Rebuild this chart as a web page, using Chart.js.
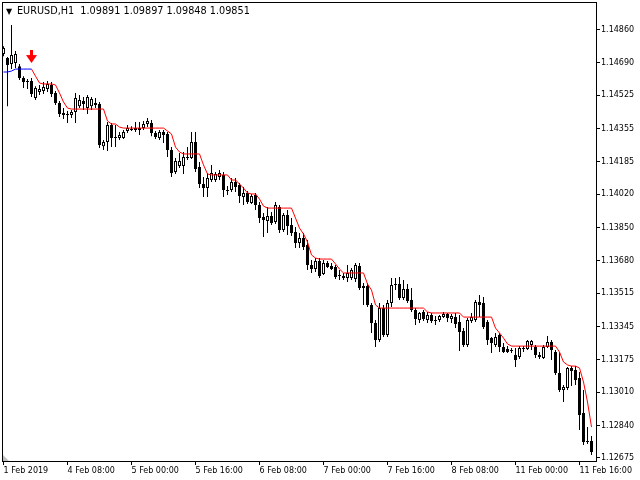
<!DOCTYPE html>
<html>
<head>
<meta charset="utf-8">
<script src="https://cdn.jsdelivr.net/npm/chart.js@4.4.1/dist/chart.umd.min.js"></script>
<style>
  html, body { margin: 0; padding: 0; background: #fff; }
  #wrap { position: relative; width: 640px; height: 480px; }
  #chart { display: block; }
  #title { position: absolute; left: 6px; top: 6px; font: 9.7px "DejaVu Sans", sans-serif; line-height: 10px; white-space: pre; color: #000; }
  #title .tri { display: inline-block; width: 11px; font-size: 8px; }
</style>
</head>
<body>
<div id="wrap">
  <canvas id="chart" width="640" height="480"></canvas>
  <div id="title"><span class="tri">▼</span>EURUSD,H1  1.09891 1.09897 1.09848 1.09851</div>
</div>
<script>
// H1 bars, index 0 = 1 Feb 16:00
const barOpen = [
  1.14735, 1.14714, 1.14684, 1.14689, 1.14673, 1.14612, 1.14597, 1.14597, 1.14510, 1.14541,
  1.14546, 1.14556, 1.14577, 1.14536, 1.14485, 1.14434, 1.14429, 1.14424, 1.14439, 1.14469,
  1.14495, 1.14459, 1.14469, 1.14485, 1.14480, 1.14265, 1.14286, 1.14373, 1.14311, 1.14306,
  1.14306, 1.14342, 1.14352, 1.14347, 1.14357, 1.14357, 1.14378, 1.14383, 1.14332, 1.14306,
  1.14337, 1.14327, 1.14245, 1.14133, 1.14163, 1.14163, 1.14204, 1.14204, 1.14286, 1.14158,
  1.14072, 1.14051, 1.14092, 1.14092, 1.14107, 1.14118, 1.14041, 1.14041, 1.14082, 1.14067,
  1.14005, 1.14026, 1.13975, 1.14016, 1.13965, 1.13903, 1.13883, 1.13908, 1.13878, 1.13954,
  1.13837, 1.13914, 1.13863, 1.13827, 1.13771, 1.13796, 1.13761, 1.13659, 1.13638, 1.13679,
  1.13613, 1.13669, 1.13653, 1.13648, 1.13602, 1.13602, 1.13592, 1.13592, 1.13587, 1.13653,
  1.13541, 1.13551, 1.13455, 1.13363, 1.13276, 1.13439, 1.13302, 1.13465, 1.13557, 1.13562,
  1.13490, 1.13536, 1.13480, 1.13429, 1.13378, 1.13419, 1.13378, 1.13404, 1.13378, 1.13378,
  1.13393, 1.13409, 1.13383, 1.13393, 1.13368, 1.13322, 1.13251, 1.13373, 1.13378, 1.13470,
  1.13465, 1.13368, 1.13286, 1.13251, 1.13302, 1.13240, 1.13230, 1.13220, 1.13200, 1.13189,
  1.13235, 1.13230, 1.13251, 1.13240, 1.13200, 1.13184, 1.13240, 1.13266, 1.13215, 1.13108,
  1.13021, 1.13031, 1.13133, 1.13123, 1.13082, 1.12904, 1.12756, 1.12761
];
const barHigh = [
  1.14775, 1.14719, 1.14883, 1.14750, 1.14684, 1.14622, 1.14607, 1.14612, 1.14571, 1.14577,
  1.14592, 1.14597, 1.14592, 1.14546, 1.14495, 1.14459, 1.14444, 1.14449, 1.14536, 1.14526,
  1.14515, 1.14526, 1.14515, 1.14510, 1.14490, 1.14296, 1.14388, 1.14383, 1.14373, 1.14337,
  1.14347, 1.14373, 1.14367, 1.14388, 1.14388, 1.14393, 1.14408, 1.14398, 1.14342, 1.14347,
  1.14347, 1.14337, 1.14260, 1.14204, 1.14230, 1.14235, 1.14260, 1.14337, 1.14337, 1.14184,
  1.14107, 1.14128, 1.14169, 1.14133, 1.14143, 1.14133, 1.14061, 1.14102, 1.14102, 1.14077,
  1.14056, 1.14036, 1.14021, 1.14026, 1.13980, 1.13924, 1.13954, 1.13929, 1.13980, 1.13965,
  1.13924, 1.13939, 1.13898, 1.13852, 1.13822, 1.13822, 1.13786, 1.13684, 1.13694, 1.13694,
  1.13684, 1.13679, 1.13669, 1.13659, 1.13633, 1.13618, 1.13659, 1.13643, 1.13669, 1.13669,
  1.13567, 1.13567, 1.13465, 1.13378, 1.13465, 1.13455, 1.13480, 1.13592, 1.13592, 1.13597,
  1.13582, 1.13562, 1.13541, 1.13439, 1.13419, 1.13429, 1.13419, 1.13414, 1.13398, 1.13404,
  1.13419, 1.13414, 1.13409, 1.13414, 1.13404, 1.13337, 1.13388, 1.13414, 1.13480, 1.13506,
  1.13495, 1.13378, 1.13291, 1.13312, 1.13312, 1.13261, 1.13245, 1.13235, 1.13235, 1.13245,
  1.13245, 1.13276, 1.13276, 1.13251, 1.13215, 1.13251, 1.13296, 1.13276, 1.13225, 1.13215,
  1.13047, 1.13138, 1.13143, 1.13143, 1.13113, 1.13021, 1.12832, 1.12786
];
const barLow = [
  1.14724, 1.14469, 1.14658, 1.14663, 1.14602, 1.14561, 1.14556, 1.14515, 1.14500, 1.14526,
  1.14531, 1.14541, 1.14515, 1.14475, 1.14413, 1.14403, 1.14383, 1.14408, 1.14383, 1.14459,
  1.14449, 1.14429, 1.14449, 1.14459, 1.14255, 1.14245, 1.14240, 1.14260, 1.14260, 1.14296,
  1.14301, 1.14332, 1.14342, 1.14337, 1.14322, 1.14347, 1.14362, 1.14316, 1.14301, 1.14296,
  1.14281, 1.14209, 1.14107, 1.14123, 1.14153, 1.14123, 1.14194, 1.14199, 1.14133, 1.14051,
  1.14005, 1.14005, 1.14082, 1.14082, 1.14092, 1.14005, 1.14016, 1.14031, 1.14031, 1.13975,
  1.13965, 1.13970, 1.13970, 1.13939, 1.13873, 1.13801, 1.13822, 1.13863, 1.13868, 1.13822,
  1.13827, 1.13812, 1.13806, 1.13745, 1.13745, 1.13735, 1.13633, 1.13618, 1.13623, 1.13592,
  1.13608, 1.13643, 1.13633, 1.13587, 1.13582, 1.13582, 1.13572, 1.13582, 1.13572, 1.13531,
  1.13455, 1.13444, 1.13312, 1.13240, 1.13266, 1.13291, 1.13291, 1.13444, 1.13531, 1.13480,
  1.13480, 1.13465, 1.13419, 1.13353, 1.13363, 1.13373, 1.13363, 1.13363, 1.13353, 1.13368,
  1.13388, 1.13368, 1.13363, 1.13337, 1.13220, 1.13240, 1.13240, 1.13363, 1.13368, 1.13393,
  1.13332, 1.13251, 1.13210, 1.13240, 1.13215, 1.13210, 1.13210, 1.13210, 1.13138, 1.13179,
  1.13215, 1.13225, 1.13225, 1.13184, 1.13179, 1.13179, 1.13235, 1.13174, 1.13098, 1.13011,
  1.12960, 1.13021, 1.13041, 1.13047, 1.12817, 1.12741, 1.12746, 1.12690
];
const barClose = [
  1.14765, 1.14679, 1.14730, 1.14735, 1.14612, 1.14592, 1.14592, 1.14531, 1.14561, 1.14556,
  1.14566, 1.14582, 1.14531, 1.14485, 1.14429, 1.14424, 1.14424, 1.14439, 1.14510, 1.14500,
  1.14480, 1.14515, 1.14505, 1.14475, 1.14271, 1.14286, 1.14373, 1.14306, 1.14306, 1.14322,
  1.14337, 1.14357, 1.14347, 1.14357, 1.14347, 1.14378, 1.14393, 1.14332, 1.14311, 1.14337,
  1.14322, 1.14245, 1.14128, 1.14189, 1.14189, 1.14209, 1.14209, 1.14286, 1.14148, 1.14072,
  1.14051, 1.14102, 1.14128, 1.14123, 1.14128, 1.14041, 1.14036, 1.14082, 1.14056, 1.14010,
  1.14026, 1.13980, 1.14010, 1.13965, 1.13898, 1.13888, 1.13908, 1.13873, 1.13965, 1.13837,
  1.13914, 1.13857, 1.13822, 1.13771, 1.13796, 1.13750, 1.13659, 1.13638, 1.13679, 1.13602,
  1.13669, 1.13648, 1.13638, 1.13597, 1.13608, 1.13592, 1.13618, 1.13633, 1.13659, 1.13541,
  1.13551, 1.13455, 1.13363, 1.13276, 1.13439, 1.13302, 1.13465, 1.13557, 1.13562, 1.13490,
  1.13536, 1.13475, 1.13429, 1.13383, 1.13414, 1.13383, 1.13404, 1.13373, 1.13373, 1.13398,
  1.13409, 1.13388, 1.13398, 1.13358, 1.13317, 1.13251, 1.13378, 1.13393, 1.13470, 1.13455,
  1.13342, 1.13276, 1.13261, 1.13291, 1.13240, 1.13215, 1.13215, 1.13225, 1.13174, 1.13235,
  1.13230, 1.13271, 1.13271, 1.13200, 1.13189, 1.13240, 1.13266, 1.13225, 1.13108, 1.13021,
  1.13036, 1.13133, 1.13118, 1.13072, 1.12894, 1.12756, 1.12761, 1.12705
];

// indicator line: blue part from bar 0, red part from bar 7
const blueLine = [1.14643, 1.14643, 1.14648, 1.14658, 1.14658, 1.14658, 1.14658, 1.14658];
const redStart = 7;
const redLine = [
  1.14658, 1.14622, 1.14587, 1.14582, 1.14582, 1.14582, 1.14577, 1.14536, 1.14490, 1.14459,
  1.14454, 1.14454, 1.14454, 1.14454, 1.14454, 1.14454, 1.14454, 1.14454, 1.14454,
  1.14393, 1.14378, 1.14378, 1.14362,
  1.14357, 1.14357, 1.14357, 1.14357, 1.14357, 1.14357, 1.14357, 1.14357, 1.14357, 1.14357, 1.14357,
  1.14342, 1.14327, 1.14260, 1.14235,
  1.14225, 1.14225, 1.14225, 1.14225, 1.14225,
  1.14169, 1.14123,
  1.14118, 1.14118, 1.14118, 1.14118, 1.14118,
  1.14092, 1.14092, 1.14072, 1.14051, 1.14026, 1.14021, 1.14021, 1.13995, 1.13959,
  1.13949, 1.13949, 1.13949, 1.13949, 1.13949, 1.13949, 1.13949,
  1.13898, 1.13847, 1.13817, 1.13776, 1.13710, 1.13694,
  1.13689, 1.13689, 1.13689, 1.13689,
  1.13664, 1.13638,
  1.13618, 1.13618, 1.13618, 1.13618, 1.13618, 1.13618,
  1.13562, 1.13531, 1.13455,
  1.13439, 1.13439, 1.13439, 1.13439, 1.13439, 1.13439, 1.13439, 1.13439, 1.13439, 1.13439, 1.13439, 1.13439,
  1.13419,
  1.13414, 1.13414, 1.13414, 1.13414, 1.13414, 1.13414, 1.13414, 1.13414,
  1.13393, 1.13393, 1.13393, 1.13393, 1.13393, 1.13393, 1.13393, 1.13393,
  1.13337, 1.13312, 1.13286, 1.13256,
  1.13245, 1.13245, 1.13245, 1.13245, 1.13245, 1.13245, 1.13245, 1.13245, 1.13245, 1.13245, 1.13245, 1.13245,
  1.13215, 1.13164, 1.13149, 1.13143, 1.13143, 1.13133, 1.13062, 1.12960, 1.12832
];

// sell signal arrow
const arrowBar = [7];
const arrowPrice = [1.14722];

const xTickIdx = [0, 16, 32, 48, 64, 80, 96, 112, 128, 144];
const xTickLabels = ['1 Feb 2019', '4 Feb 08:00', '5 Feb 00:00', '5 Feb 16:00', '6 Feb 08:00',
  '7 Feb 00:00', '7 Feb 16:00', '8 Feb 08:00', '11 Feb 00:00', '11 Feb 16:00'];
const yTicks = [1.14860, 1.14690, 1.14525, 1.14355, 1.14185, 1.14020, 1.13850,
  1.13680, 1.13515, 1.13345, 1.13175, 1.13010, 1.12840, 1.12675];

Chart.defaults.font.family = '"DejaVu Sans", sans-serif';
Chart.defaults.font.size = 8;
Chart.defaults.color = '#000';

const idx = barOpen.map((_, i) => i);
const isUp = idx.map(i => barClose[i] >= barOpen[i]);

function arrowIcon() {
  const c = document.createElement('canvas');
  c.width = 11;
  c.height = 13;
  const g = c.getContext('2d');
  g.fillStyle = '#ff0000';
  g.fillRect(4, 0, 3, 6);
  g.beginPath();
  g.moveTo(0, 5);
  g.lineTo(11, 5);
  g.lineTo(5.5, 13);
  g.closePath();
  g.fill();
  return c;
}

// chart frame + the small shift marker in the corner
const framePlugin = {
  id: 'frame',
  afterDraw(chart) {
    const { ctx, chartArea: a } = chart;
    ctx.save();
    ctx.strokeStyle = '#000';
    ctx.lineWidth = 1;
    ctx.strokeRect(a.left - 0.5, a.top - 0.5, a.right - a.left + 1, a.bottom - a.top + 1);
    ctx.fillStyle = '#c0c0c0';
    ctx.beginPath();
    ctx.moveTo(a.left, a.bottom - 6);
    ctx.lineTo(a.left + 6, a.bottom);
    ctx.lineTo(a.left, a.bottom);
    ctx.closePath();
    ctx.fill();
    ctx.restore();
  }
};

new Chart(document.getElementById('chart'), {
  type: 'bar',
  data: {
    datasets: [
      {
        type: 'line',
        data: arrowBar.map((b, k) => ({ x: b, y: arrowPrice[k] })),
        showLine: false,
        pointStyle: arrowIcon(),
        pointRadius: 6,
        order: 0
      },
      {
        type: 'line',
        data: redLine.map((v, k) => ({ x: k + redStart, y: v })),
        borderColor: '#ff0000',
        borderWidth: 1,
        pointRadius: 0,
        order: 1
      },
      {
        type: 'line',
        data: blueLine.map((v, k) => ({ x: k, y: v })),
        borderColor: '#0000ff',
        borderWidth: 1,
        pointRadius: 0,
        order: 1
      },
      {
        data: idx.map(i => ({ x: i, y: [barOpen[i], barClose[i]] })),
        grouped: false,
        barPercentage: 1,
        categoryPercentage: 1,
        maxBarThickness: 3,
        minBarLength: 1,
        inflateAmount: 0,
        backgroundColor: c => (isUp[c.dataIndex] ? '#ffffff' : '#000000'),
        borderColor: '#000',
        borderWidth: 1,
        borderSkipped: false,
        order: 2
      },
      {
        data: idx.map(i => ({ x: i, y: [barLow[i], barHigh[i]] })),
        grouped: false,
        barPercentage: 1,
        categoryPercentage: 1,
        maxBarThickness: 1,
        inflateAmount: 0,
        backgroundColor: '#000',
        borderWidth: 0,
        order: 3
      }
    ]
  },
  options: {
    responsive: false,
    animation: false,
    events: [],
    layout: { autoPadding: false, padding: { left: 3, top: 3, right: 0, bottom: 0 } },
    plugins: {
      legend: { display: false },
      tooltip: { enabled: false }
    },
    scales: {
      x: {
        type: 'linear',
        offset: false,
        min: -0.125,
        max: 148.125,
        afterBuildTicks: s => { s.ticks = xTickIdx.map(v => ({ value: v })); },
        afterFit: s => { s.height = 19; s.paddingLeft = 0; s.paddingRight = 0; },
        grid: { drawOnChartArea: false, tickLength: 4, color: '#000', offset: false },
        border: { display: false },
        ticks: {
          autoSkip: false,
          maxRotation: 0,
          align: 'start',
          padding: 1,
          callback: (v, k) => xTickLabels[k]
        }
      },
      y: {
        type: 'linear',
        position: 'right',
        min: 1.12659,
        max: 1.14995,
        afterBuildTicks: s => { s.ticks = yTicks.map(v => ({ value: v })); },
        afterFit: s => { s.width = 44; s.paddingTop = 0; s.paddingBottom = 0; },
        grid: { drawOnChartArea: false, tickLength: 4, color: '#000' },
        border: { display: false },
        ticks: { padding: 1, callback: v => v.toFixed(5) }
      }
    }
  },
  plugins: [framePlugin]
});
</script>
</body>
</html>
